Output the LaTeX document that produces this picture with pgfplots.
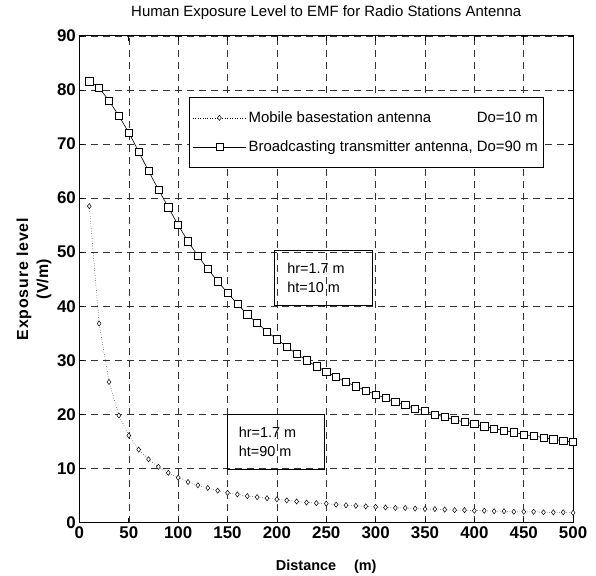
\documentclass[border=0pt]{standalone}
\usepackage{fontspec}
\setmainfont{Liberation Sans}
\usepackage{pgfplots}
\pgfplotsset{compat=1.18}
\pgfplotstableread{
x y
10 81.6
20 80.4
30 78.0
40 75.2
50 72.1
60 68.6
70 65.0
80 61.6
90 58.3
100 55.0
110 52.0
120 49.3
130 46.9
140 44.6
150 42.5
160 40.4
170 38.5
180 36.9
190 35.3
200 33.9
210 32.5
220 31.2
230 30.0
240 28.9
250 27.9
260 26.9
270 26.0
280 25.2
290 24.4
300 23.7
310 23.0
320 22.3
330 21.7
340 21.1
350 20.6
360 20.0
370 19.5
380 19.0
390 18.6
400 18.2
410 17.8
420 17.4
430 17.0
440 16.7
450 16.3
460 16.0
470 15.7
480 15.4
490 15.1
500 14.9
}\broad
\pgfplotstableread{
x y
10 58.5
20 36.8
30 26.0
40 19.8
50 16.1
60 13.5
70 11.7
80 10.3
90 9.2
100 8.3
110 7.5
120 6.9
130 6.4
140 5.9
150 5.5
160 5.2
170 4.9
180 4.7
190 4.5
200 4.3
210 4.1
220 3.9
230 3.7
240 3.6
250 3.5
260 3.3
270 3.2
280 3.1
290 3.0
300 2.9
310 2.8
320 2.7
330 2.7
340 2.6
350 2.5
360 2.5
370 2.4
380 2.3
390 2.3
400 2.2
410 2.2
420 2.1
430 2.1
440 2.0
450 2.0
460 2.0
470 1.9
480 1.9
490 1.9
500 1.8
}\mobile
\newlength\legw
\begin{document}
\settowidth\legw{\fontsize{15bp}{17bp}\selectfont Broadcasting transmitter antenna, Do=90 m}
\begin{tikzpicture}[x=1bp,y=1bp]
\begin{axis}[
  scale only axis,
  width=496bp, height=489bp,
  xmin=0, xmax=500, ymin=0, ymax=90,
  xtick={0,50,...,500}, ytick={0,10,...,90},
  grid=major,
  major grid style={black!80, line width=0.5bp, dash pattern=on 7bp off 5bp},
  axis line style={black, line width=0.7bp},
  tick style={black, line width=0.6bp},
  major tick length=5bp,
  tick align=inside,
  /pgf/number format/assume math mode=true,
  ticklabel style={font=\fontsize{17bp}{19bp}\selectfont\bfseries},
  xticklabel style={yshift=-1bp},
  title={Human Exposure Level to EMF for Radio Stations Antenna},
  title style={font=\fontsize{15bp}{17bp}\selectfont, at={(axis description cs:0.5,1.035)}, anchor=center},
  xlabel={Distance\hspace{18bp}(m)},
  xlabel style={font=\fontsize{14.5bp}{16bp}\selectfont\bfseries, at={(axis description cs:0.5,-0.091)}, anchor=center},
  ylabel={{\addfontfeature{LetterSpace=5}Exposure level}\\(V/m)},
  ylabel style={font=\fontsize{16bp}{20bp}\selectfont\bfseries, align=center, at={(axis description cs:-0.092,0.5)}, anchor=center, rotate=0},
  legend cell align=left,
  legend style={at={(axis cs:111,78.6)}, anchor=north west, draw=black, line width=0.6bp, fill=white,
    font=\fontsize{15bp}{17bp}\selectfont, inner xsep=3bp, inner ysep=12bp, row sep=13bp},
  legend image code/.code={\draw[mark repeat=2,mark phase=2] plot coordinates {(0bp,0bp) (27bp,0bp) (54bp,0bp)};},
]
\addplot[black, line width=0.5bp, dotted, mark=diamond*, mark size=2.6bp, mark options={solid, fill=white, line width=0.5bp}] table[x=x,y=y] {\mobile};
\addlegendentry{\makebox[\legw][l]{Mobile basestation antenna\hfill Do=10 m}}
\addplot[black, line width=0.6bp, mark=square*, mark size=3.6bp, mark options={solid, fill=white, line width=0.6bp}] table[x=x,y=y] {\broad};
\addlegendentry{Broadcasting transmitter antenna, Do=90 m}
\draw[black, line width=0.6bp] (axis cs:197,50.3) rectangle (axis cs:297,40.1);
\node[anchor=west, font=\fontsize{14.5bp}{17bp}\selectfont, align=left] at (axis cs:207,45.2) {hr=1.7 m\\[2bp]ht=10 m};
\draw[black, line width=0.6bp] (axis cs:150,20.1) rectangle (axis cs:248,9.9);
\node[anchor=west, font=\fontsize{14.5bp}{17bp}\selectfont, align=left] at (axis cs:158,15.0) {hr=1.7 m\\[2bp]ht=90 m};
\end{axis}
\pgfresetboundingbox
\path ([xshift=-77bp,yshift=-53bp]current axis.south west) rectangle ([xshift=23bp,yshift=36bp]current axis.north east);
\end{tikzpicture}
\end{document}
